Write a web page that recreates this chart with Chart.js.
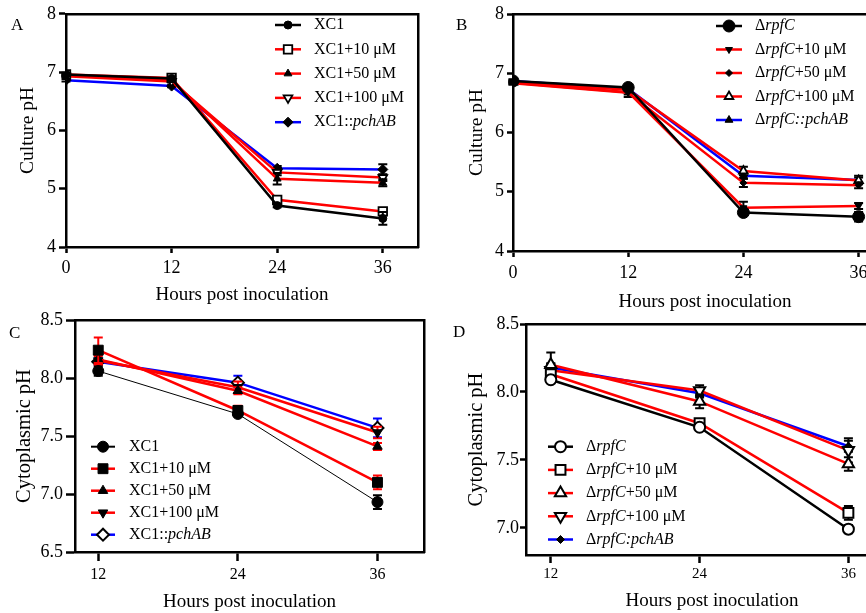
<!DOCTYPE html>
<html>
<head>
<meta charset="utf-8">
<script src="https://cdn.jsdelivr.net/npm/chart.js@4.4.1/dist/chart.umd.min.js"></script>
<style>
  html, body { margin: 0; padding: 0; width: 866px; height: 613px; overflow: hidden; background: #fff; }
  canvas { position: absolute; }
  .tag { position: absolute; font: 17px 'Liberation Serif', 'Times New Roman', serif; line-height: 1; color: #000; }
</style>
</head>
<body>
<canvas id="cA" width="430" height="310" style="left:0;top:0"></canvas>
<canvas id="cB" width="480" height="317" style="left:430px;top:0"></canvas>
<canvas id="cC" width="440" height="317" style="left:0;top:300px"></canvas>
<canvas id="cD" width="480" height="316" style="left:430px;top:300px"></canvas>
<div class="tag" style="left:11px;top:16px">A</div>
<div class="tag" style="left:456px;top:16px">B</div>
<div class="tag" style="left:9px;top:324px">C</div>
<div class="tag" style="left:453px;top:323px">D</div>
<script>
const FONT = "'Liberation Serif', 'Times New Roman', serif";

// --- data ---
const hoursAB = [0, 12, 24, 36];
const hoursCD = [12, 24, 36];
const ticksX_AB = [0, 12, 24, 36];
const ticksX_CD = [12, 24, 36];
const ticksY_AB = [4, 5, 6, 7, 8];
const ticksY_C = [6.5, 7.0, 7.5, 8.0, 8.5];
const ticksY_D = [7.0, 7.5, 8.0, 8.5];

// A: culture pH, XC1
const labelsA = ['XC1', 'XC1+10 μM', 'XC1+50 μM', 'XC1+100 μM', 'XC1::*pchAB*'];
const phA_xc1   = [6.96, 6.89, 4.71, 4.49];
const phA_10    = [6.96, 6.90, 4.81, 4.61];
const phA_50    = [6.94, 6.86, 5.17, 5.10];
const phA_100   = [6.93, 6.84, 5.28, 5.19];
const phA_pch   = [6.86, 6.76, 5.35, 5.33];
const errA_xc1  = [0.03, 0.03, 0.03, 0.11];
const errA_10   = [0.02, 0.03, 0.04, 0.05];
const errA_50   = [0.02, 0.02, 0.10, 0.06];
const errA_100  = [0.02, 0.02, 0.05, 0.06];
const errA_pch  = [0.02, 0.02, 0.04, 0.09];

// B: culture pH, rpfC mutant
const labelsB = ['Δ*rpfC*', 'Δ*rpfC*+10 μM', 'Δ*rpfC*+50 μM', 'Δ*rpfC*+100 μM', 'Δ*rpfC::pchAB*'];
const phB_rpfC  = [6.87, 6.76, 4.65, 4.58];
const phB_10    = [6.84, 6.68, 4.73, 4.76];
const phB_50    = [6.83, 6.67, 5.15, 5.11];
const phB_100   = [6.85, 6.72, 5.35, 5.19];
const phB_pch   = [6.87, 6.74, 5.27, 5.20];
const errB_rpfC = [0.03, 0.03, 0.05, 0.08];
const errB_10   = [0.03, 0.08, 0.10, 0.05];
const errB_50   = [0.02, 0.03, 0.07, 0.05];
const errB_100  = [0.02, 0.03, 0.07, 0.05];
const errB_pch  = [0.02, 0.03, 0.05, 0.07];

// C: cytoplasmic pH, XC1
const labelsC = ['XC1', 'XC1+10 μM', 'XC1+50 μM', 'XC1+100 μM', 'XC1::*pchAB*'];
const phC_xc1   = [8.06, 7.69, 6.93];
const phC_10    = [8.24, 7.72, 7.10];
const phC_50    = [8.16, 7.89, 7.41];
const phC_100   = [8.15, 7.92, 7.53];
const phC_pch   = [8.14, 7.96, 7.57];
const errC_xc1  = [0.04, 0.02, 0.06];
const errC_10   = [0.11, 0.04, 0.06];
const errC_50   = [0.04, 0.03, 0.03];
const errC_100  = [0.04, 0.05, 0.05];
const errC_pch  = [0.03, 0.06, 0.08];

// D: cytoplasmic pH, rpfC mutant
const labelsD = ['Δ*rpfC*', 'Δ*rpfC*+10 μM', 'Δ*rpfC*+50 μM', 'Δ*rpfC*+100 μM', 'Δ*rpfC:pchAB*'];
const phD_rpfC  = [8.09, 7.74, 6.99];
const phD_10    = [8.13, 7.77, 7.11];
const phD_50    = [8.20, 7.93, 7.47];
const phD_100   = [8.16, 8.01, 7.57];
const phD_pch   = [8.18, 7.99, 7.60];
const errD_rpfC = [0.02, 0.02, 0.03];
const errD_10   = [0.04, 0.03, 0.05];
const errD_50   = [0.09, 0.05, 0.05];
const errD_100  = [0.05, 0.04, 0.09];
const errD_pch  = [0.03, 0.03, 0.04];

// error bars drawn under each dataset
const errorBars = {
  id: 'errorBars',
  beforeDatasetDraw(chart, args, opts) {
    const ds = chart.data.datasets[args.index];
    if (!ds.errors) return;
    const ctx = chart.ctx, xs = chart.scales.x, ys = chart.scales.y;
    ctx.save();
    ctx.strokeStyle = ds.errorColor;
    ctx.lineWidth = opts.width;
    ds.data.forEach((p, i) => {
      const e = ds.errors[i];
      const px = xs.getPixelForValue(p.x);
      const top = ys.getPixelForValue(p.y + e), bot = ys.getPixelForValue(p.y - e);
      ctx.beginPath();
      ctx.moveTo(px, top); ctx.lineTo(px, bot);
      ctx.moveTo(px - opts.cap, top); ctx.lineTo(px + opts.cap, top);
      ctx.moveTo(px - opts.cap, bot); ctx.lineTo(px + opts.cap, bot);
      ctx.stroke();
    });
    ctx.restore();
  }
};

// legend with line + marker, italic parts between *...*
const lineLegend = {
  id: 'lineLegend',
  afterDatasetsDraw(chart, args, o) {
    const ctx = chart.ctx;
    chart.data.datasets.forEach((ds, i) => {
      const y = o.y + i * o.dy;
      ctx.save();
      ctx.strokeStyle = ds.borderColor;
      ctx.lineWidth = ds.borderWidth < 2 ? 2 : ds.borderWidth;
      ctx.beginPath(); ctx.moveTo(o.x, y); ctx.lineTo(o.x + o.len, y); ctx.stroke();
      ctx.fillStyle = ds.pointBackgroundColor;
      ctx.strokeStyle = ds.pointBorderColor;
      ctx.lineWidth = ds.pointBorderWidth;
      Chart.helpers.drawPoint(ctx, {
        pointStyle: ds.pointStyle, rotation: ds.pointRotation,
        radius: ds.pointRadius, borderWidth: ds.pointBorderWidth
      }, o.x + o.len / 2, y);
      let tx = o.x + o.len + o.gap;
      ctx.fillStyle = '#000';
      ctx.textBaseline = 'middle';
      ds.rawLabel.split('*').forEach((seg, k) => {
        ctx.font = (k % 2 ? 'italic ' : '') + o.size + 'px ' + FONT;
        ctx.fillText(seg, tx, y);
        tx += ctx.measureText(seg).width;
      });
      ctx.restore();
    });
  }
};

function makePanel(id, p) {
  const datasets = p.series.map((vals, i) => {
    const st = p.styles[i];
    return {
      label: p.labels[i].replace(/\*/g, ''),
      rawLabel: p.labels[i],
      data: p.hours.map((h, k) => ({ x: h, y: vals[k] })),
      errors: p.errors[i],
      errorColor: p.errLine ? st.line : '#000',
      borderColor: st.line,
      borderWidth: st.lw,
      pointStyle: st.shape,
      pointRotation: st.rot || 0,
      pointRadius: st.r,
      pointBackgroundColor: st.fill,
      pointBorderColor: '#000',
      pointBorderWidth: st.bw,
      tension: 0,
      fill: false
    };
  });
  const frame = { color: '#000', width: 2.5 };
  new Chart(document.getElementById(id), {
    type: 'line',
    data: { datasets: datasets },
    plugins: [errorBars, lineLegend],
    options: {
      responsive: false,
      animation: false,
      events: [],
      layout: { padding: p.pad },
      plugins: {
        legend: { display: false },
        tooltip: { enabled: false },
        errorBars: { width: 2, cap: 4.5 },
        lineLegend: p.legend
      },
      scales: {
        x: {
          type: 'linear', position: 'bottom', min: p.xMin, max: p.xMax,
          afterBuildTicks: s => { s.ticks = p.xTicks.map(v => ({ value: v })); },
          afterFit: s => { s.height = p.xH; },
          grid: { drawOnChartArea: false, tickLength: p.xTl, tickWidth: 2.5, tickColor: '#000' },
          border: frame,
          ticks: { color: '#000', padding: p.xPad, maxRotation: 0, font: { family: FONT, size: p.xTickSize } },
          title: { display: true, text: 'Hours post inoculation', color: '#000',
                   font: { family: FONT, size: 19 }, padding: { top: 4, bottom: 4 } }
        },
        y: {
          type: 'linear', position: 'left', min: p.yMin, max: p.yMax,
          afterBuildTicks: s => { s.ticks = p.yTicks.map(v => ({ value: v })); },
          afterFit: s => { s.width = p.yW; },
          grid: { drawOnChartArea: false, tickLength: p.yTl, tickWidth: 2.5, tickColor: '#000' },
          border: frame,
          ticks: { color: '#000', padding: p.yPad, font: { family: FONT, size: 18 },
                   callback: v => v.toFixed(p.yDec) },
          title: { display: true, text: p.yTitle, color: '#000',
                   font: { family: FONT, size: p.yTitleSize }, padding: { top: 4, bottom: 4 } }
        },
        xTop: {
          type: 'linear', position: 'top', display: true, min: 0, max: 1,
          afterFit: s => { s.height = 0; },
          grid: { display: false }, ticks: { display: false }, border: frame
        },
        yRight: {
          type: 'linear', position: 'right', display: true, min: 0, max: 1,
          afterFit: s => { s.width = 0; },
          grid: { display: false }, ticks: { display: false }, border: frame
        }
      }
    }
  });
}

const RED = '#ff0000', BLUE = '#0000ff', BLACK = '#000000';

makePanel('cA', {
  hours: hoursAB, labels: labelsA,
  series: [phA_xc1, phA_10, phA_50, phA_100, phA_pch],
  errors: [errA_xc1, errA_10, errA_50, errA_100, errA_pch],
  styles: [
    { line: BLACK, lw: 2.5, shape: 'circle', r: 4, fill: '#000', bw: 1 },
    { line: RED, lw: 2.5, shape: 'rect', r: 6, fill: '#fff', bw: 1.8 },
    { line: RED, lw: 2.5, shape: 'triangle', r: 4.5, fill: '#000', bw: 1 },
    { line: RED, lw: 2.5, shape: 'triangle', rot: 180, r: 5, fill: '#fff', bw: 1.8 },
    { line: BLUE, lw: 2.5, shape: 'rectRot', r: 5, fill: '#000', bw: 1 }
  ],
  xMin: 0, xMax: 40, xTicks: ticksX_AB, yMin: 4, yMax: 8, yTicks: ticksY_AB, yDec: 0,
  yTitle: 'Culture pH', yTitleSize: 19.5,
  pad: { left: 12, top: 13, right: 12, bottom: 0 }, yW: 54, xH: 63, xTl: 6, yTl: 7,
  xPad: 4, yPad: 3, xTickSize: 18,
  legend: { x: 275, y: 25, dy: 24.3, len: 26, gap: 13, size: 16 }
});

makePanel('cB', {
  hours: hoursAB, labels: labelsB,
  series: [phB_rpfC, phB_10, phB_50, phB_100, phB_pch],
  errors: [errB_rpfC, errB_10, errB_50, errB_100, errB_pch],
  styles: [
    { line: BLACK, lw: 2.5, shape: 'circle', r: 6, fill: '#000', bw: 1 },
    { line: RED, lw: 2.5, shape: 'triangle', rot: 180, r: 4, fill: '#000', bw: 1 },
    { line: RED, lw: 2.5, shape: 'rectRot', r: 3.5, fill: '#000', bw: 1 },
    { line: RED, lw: 2.5, shape: 'triangle', r: 5, fill: '#fff', bw: 1.8 },
    { line: BLUE, lw: 2.5, shape: 'triangle', r: 4.5, fill: '#000', bw: 1 }
  ],
  xMin: 0, xMax: 40, xTicks: ticksX_AB, yMin: 4, yMax: 8, yTicks: ticksY_AB, yDec: 0,
  yTitle: 'Culture pH', yTitleSize: 19.5,
  pad: { left: 31, top: 14, right: 13, bottom: 0 }, yW: 52, xH: 66, xTl: 6, yTl: 6,
  xPad: 5, yPad: 3, xTickSize: 18,
  legend: { x: 286, y: 26, dy: 23.5, len: 26, gap: 13, size: 16 }
});

makePanel('cC', {
  hours: hoursCD, labels: labelsC, errLine: true,
  series: [phC_xc1, phC_10, phC_50, phC_100, phC_pch],
  errors: [errC_xc1, errC_10, errC_50, errC_100, errC_pch],
  styles: [
    { line: BLACK, lw: 1, shape: 'circle', r: 5.5, fill: '#000', bw: 1 },
    { line: RED, lw: 2.5, shape: 'rect', r: 7, fill: '#000', bw: 1 },
    { line: RED, lw: 2.5, shape: 'triangle', r: 5.5, fill: '#000', bw: 1 },
    { line: RED, lw: 2.5, shape: 'triangle', rot: 180, r: 5.5, fill: '#000', bw: 1 },
    { line: BLUE, lw: 2.5, shape: 'rectRot', r: 6, fill: '#fff', bw: 2 }
  ],
  xMin: 10, xMax: 40, xTicks: ticksX_CD, yMin: 6.5, yMax: 8.5, yTicks: ticksY_C, yDec: 1,
  yTitle: 'Cytoplasmic pH', yTitleSize: 20.5,
  pad: { left: 8, top: 20, right: 16, bottom: 0 }, yW: 67, xH: 65, xTl: 9, yTl: 9,
  xPad: 4, yPad: 3, xTickSize: 16,
  legend: { x: 91, y: 146.7, dy: 22, len: 24, gap: 14, size: 16 }
});

makePanel('cD', {
  hours: hoursCD, labels: labelsD,
  series: [phD_rpfC, phD_10, phD_50, phD_100, phD_pch],
  errors: [errD_rpfC, errD_10, errD_50, errD_100, errD_pch],
  styles: [
    { line: BLACK, lw: 2.5, shape: 'circle', r: 5.5, fill: '#fff', bw: 2 },
    { line: RED, lw: 2.5, shape: 'rect', r: 7, fill: '#fff', bw: 2 },
    { line: RED, lw: 2.5, shape: 'triangle', r: 6.5, fill: '#fff', bw: 2 },
    { line: RED, lw: 2.5, shape: 'triangle', rot: 180, r: 6.5, fill: '#fff', bw: 2 },
    { line: BLUE, lw: 2.5, shape: 'rectRot', r: 4, fill: '#000', bw: 1 }
  ],
  xMin: 10, xMax: 40, xTicks: ticksX_CD, yMin: 6.8, yMax: 8.5, yTicks: ticksY_D, yDec: 1,
  yTitle: 'Cytoplasmic pH', yTitleSize: 20.5,
  pad: { left: 30, top: 24, right: 12, bottom: 0 }, yW: 66, xH: 61, xTl: 8, yTl: 6,
  xPad: 2, yPad: 1, xTickSize: 15,
  legend: { x: 118, y: 146.7, dy: 23.2, len: 25, gap: 13, size: 16 }
});
</script>
</body>
</html>
